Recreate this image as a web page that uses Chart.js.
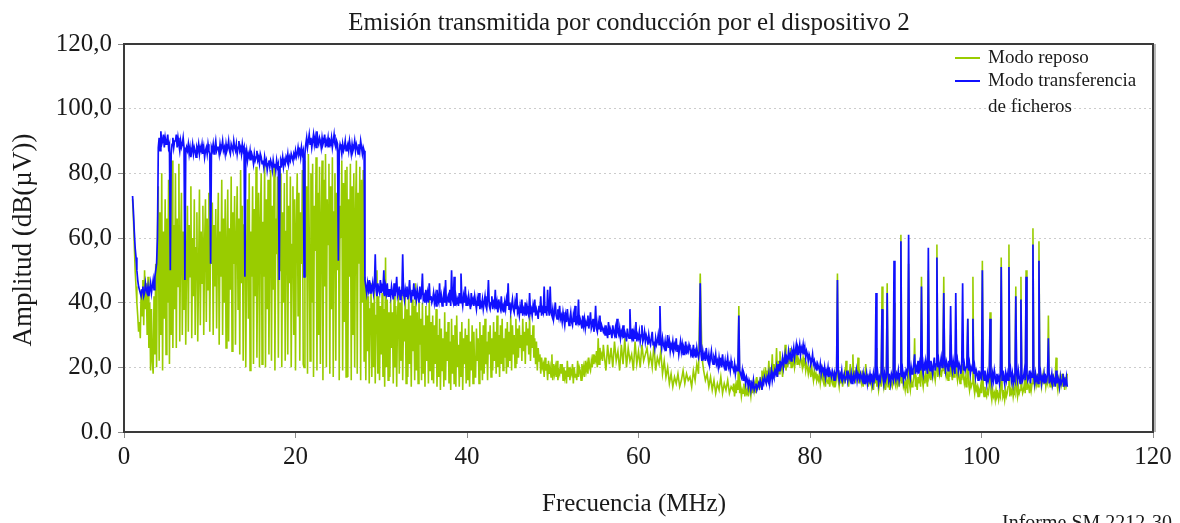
<!DOCTYPE html>
<html>
<head>
<meta charset="utf-8">
<title>Emisión transmitida por conducción por el dispositivo 2</title>
<script src="https://cdn.jsdelivr.net/npm/chart.js@4.4.1/dist/chart.umd.min.js"></script>
<style>
  html, body { margin: 0; padding: 0; background: #fff; }
  #wrap { width: 1180px; height: 523px; }
</style>
</head>
<body>
<div id="wrap"><canvas id="chart" width="1180" height="523"></canvas></div>
<script>
// texts
const TITLE = 'Emisión transmitida por conducción por el dispositivo 2';
const X_TITLE = 'Frecuencia (MHz)';
const Y_TITLE = 'Amplitud (dB(µV))';
const SERIES_NAMES = ['Modo reposo', 'Modo transferencia', 'de ficheros'];
const FOOTNOTE = 'Informe SM.2212-30';

// axes
const X_TICKS = [0, 20, 40, 60, 80, 100, 120];
const X_TICK_LABELS = ['0', '20', '40', '60', '80', '100', '120'];
const Y_TICKS = [0, 20, 40, 60, 80, 100, 120];
const Y_TICK_LABELS = ['0.0', '20,0', '40,0', '60,0', '80,0', '100,0', '120,0'];

// sweep: each row covers 5 MHz, row k starts at 1 + 5k MHz.
// rows with more than 25 readings are 0.1 MHz apart, the others 0.2 MHz
const ROW_START = 1;
const ROW_SPAN = 5;

// Modo reposo, dB(uV)
const IDLE = [
  [72,66,58,50,45,40,36,31,34,29, 44,36,47,33,50,38,46,30,48,26, 40,19,38,22,18,42,24,52,20,60, 76,22,68,30,80,19,62,35,72,24, 66,40,78,21,70,30,84,26,64,38],
  [80,26,66,45,83,28,58,74,30,62, 38,74,27,55,70,31,64,48,76,29, 60,42,72,30,57,68,28,50,75,33, 62,46,70,30,58,72,34,66,44,74, 31,60,52,71,30,64,45,69,32,58],
  [74,27,62,48,78,30,66,40,72,26, 58,75,28,63,44,79,25,68,52,73, 27,60,76,38,66,24,81,46,70,22, 64,77,20,55,72,35,80,19,62,48, 76,21,69,42,82,23,58,74,20,66],
  [80,21,65,48,83,20,72,38,78,24, 60,81,22,70,44,82,19,66,55,79, 23,74,50,80,20,68,40,77,22,62, 81,24,70,46,79,20,58,76,30,72, 19,64,80,36,74,22,68,52,81,21],
  [20,84,48,76,18,86,62,22,80,40, 83,17,70,56,85,19,74,30,82,21, 66,84,16,78,45,86,20,72,58,83, 18,76,38,85,17,68,80,22,74,50, 82,16,70,60,84,19,77,34,81,17],
  [82,17,72,48,83,16,76,30,80,20, 68,84,18,74,52,82,16,78,40,81, 22,48,16,44,25,42,15,38,46,17, 40,20,44,15,36,50,18,42,16,39, 24,43,17,38,14,54,20,41,16,37],
  [17,41,26,37,15,44,20,39,14,36, 43,18,40,22,45,16,35,28,42,15, 38,17,44,21,36,14,41,25,39,16, 46,19,37,15,42,27,35,16,40,18, 33,14,39,22,36,15,41,19,34,16],
  [36,15,33,21,38,14,30,17,35,13, 32,19,29,14,37,16,31,22,34,15, 28,13,35,18,30,15,33,14,36,20, 27,14,31,17,34,13,29,21,32,15, 30,16,35,14,28,19,33,15,31,17],
  [17,32,22,29,15,34,19,30,16,33, 18,35,21,28,16,31,24,33,17,29, 19,34,22,31,18,36,20,30,17,33, 21,35,19,29,23,32,18,34,20,31, 22,36,19,33,24,30,20,35,21,32],
  [23,33,26,30,22,35,25,31,21,34, 27,32,24,36,22,30,26,33,23,29, 21,28,19,26,22,24,18,23,20,21, 17,23,19,21,16,22,18,20,17,24, 16,21,18,20,17,22,16,19,18,21],
  [18,21,16,20,17,19,15,22,17,20, 16,19,18,21,15,20,17,18,16,22, 17,20,19,16,21,18,20,17,22,19, 21,18,23,20,19,22,20,24,21,23, 22,25,20,29,21,26,23,24,22,27],
  [24,19,27,21,26,20,28,22,25,19,27,21,29,20,26,22,24,19,28,21,25,20,27,22,24],
  [26,21,24,20,27,19,23,21,25,18,22,17,20,15,18,14,17,15,18,14,16,19,15,18,16],
  [17,14,19,16,21,18,49,23,19,16,18,14,17,13,16,12,15,13,17,12,15,13,16,12,14],
  [13,15,11,14,12,16,13,39,12,14, 11,13,12,15,11,14,12,13,11,15, 13,11,14,12,16,13,15,12,17,14, 15,13,17,14,19,15,18,16,20,15, 19,17,22,16,20,18,24,17,21,19],
  [19,26,17,22,18,25,19,21,17,23, 20,27,19,22,20,24,21,26,20,22, 21,23,20,22,24,21,23,22,21,23, 22,20,23,21,22,19,21,20,18,20, 19,17,20,18,16,19,17,18,16,17],
  [16,18,15,17,19,16,15,18,14,17, 16,15,18,14,17,16,15,17,14,16, 15,17,49,16,14,17,15,18,14,16, 18,15,22,16,19,14,17,21,15,18, 24,16,19,15,20,17,23,15,18,16],
  [15,19,14,17,16,21,15,18,14,16, 15,17,14,16,13,17,15,26,14,16, 13,15,17,14,45,16,14,17,13,15, 46,14,16,13,17,15,14,16,40,15, 14,17,15,18,14,16,61,15,17,14],
  [15,13,16,14,12,52,15,13,16,14, 15,17,29,14,16,13,17,15,18,14, 48,16,14,17,15,18,16,14,50,17, 18,16,19,17,20,18,16,19,58,17, 20,18,21,17,19,22,48,18,20,17],
  [18,16,19,17,30,18,16,20,17,19, 21,18,16,19,17,15,18,16,21,17, 15,17,14,16,35,15,13,16,14,15, 48,14,12,15,13,14,11,13,12,14, 12,53,13,11,14,12,11,13,12,14],
  [37,12,10,13,11,12,10,13,11,12, 10,12,11,54,13,11,12,10,13,11, 12,14,58,11,13,12,14,11,13,12, 45,13,11,14,12,13,48,14,12,13, 15,12,50,13,15,14,12,16,13,15],
  [63,16,14,17,15,18,14,59,15,17, 14,16,18,15,17,14,16,15,36,16, 14,17,15,18,14,16,17,23,15,13, 16,14,17,15,18,14,16,13,17,15, 18]
];

// Modo transferencia de ficheros
const TRANSFER = [
  [73,68,62,57,54,50,47,45,44,43, 42,44,45,42,43,46,44,43,45,42, 44,46,43,45,47,44,48,50,52,60, 88,91,87,93,89,90,92,88,91,89, 90,92,88,89,50,86,89,91,88,90],
  [90,92,88,91,89,87,90,88,89,91, 88,47,86,88,87,89,86,88,85,87, 89,86,88,87,85,88,87,89,86,88, 87,89,86,88,85,87,88,86,89,87, 86,52,88,87,89,86,88,90,87,88],
  [88,86,89,87,88,90,87,88,86,89, 87,88,90,87,86,89,88,87,90,88, 87,89,86,88,90,87,88,86,89,87, 88,48,85,87,84,86,85,87,84,86, 85,83,86,84,85,87,84,85,83,86],
  [85,83,84,82,85,83,84,81,83,84, 82,84,83,81,84,82,83,81,84,82, 83,47,82,84,83,85,82,84,83,85, 84,86,83,85,84,86,85,84,86,85, 87,85,86,88,86,87,85,88,86,87],
  [48,86,89,91,88,90,92,89,91,88, 90,92,89,91,88,93,90,89,91,90, 88,91,89,90,92,88,90,89,91,88, 90,89,91,88,90,92,89,88,90,89, 53,87,89,88,86,89,87,88,90,87],
  [88,89,87,90,88,86,89,87,88,90, 87,89,88,86,89,87,90,88,86,88, 87,47,45,43,46,44,47,43,45,44, 46,43,45,55,44,42,46,44,43,47, 43,45,44,50,42,45,43,46,42,44],
  [44,42,45,43,41,46,42,44,48,42, 43,45,41,44,42,55,43,41,44,42, 45,41,43,47,42,40,44,42,46,41, 43,41,44,42,40,45,41,43,49,41, 42,40,44,41,43,40,46,41,42,40],
  [41,43,40,42,39,44,41,40,46,40, 42,39,41,43,40,47,39,41,42,40, 44,39,50,41,40,48,39,42,40,41, 39,43,40,49,41,39,42,40,45,39, 41,39,42,40,38,43,40,41,39,42],
  [40,38,41,39,43,38,40,39,41,38, 40,42,39,38,41,47,39,38,40,42, 38,40,39,44,38,40,37,41,39,38, 42,38,39,37,40,38,41,39,46,38, 40,37,39,41,38,37,40,38,43,37],
  [38,36,39,37,41,36,38,37,40,36, 39,37,36,43,37,38,36,39,37,41, 36,38,37,35,39,37,42,36,38,37, 45,37,39,36,44,38,36,45,37,36, 38,35,37,40,36,35,38,36,39,35],
  [36,34,37,35,33,36,34,38,35,33, 35,37,34,33,36,34,39,33,35,34, 41,33,35,34,32,36,33,35,32,34, 33,36,32,34,37,32,33,35,31,33, 39,32,31,34,32,36,31,33,32,31],
  [32,30,33,31,29,34,30,32,31,29, 33,31,30,32,29,35,31,30,32,29, 31,30,33,29,31,30,28,32,30,29, 38,30,29,32,28,31,29,34,28,30, 29,31,28,30,33,28,29,31,28,30],
  [29,27,30,28,27,29,31,27,28,26, 29,27,28,30,27,39,28,26,29,27, 26,28,25,27,30,26,28,25,27,26, 28,25,27,26,29,25,27,24,26,28, 25,27,24,26,25,28,24,26,25,27],
  [26,24,25,23,27,24,25,23,26,24, 23,25,46,24,22,25,23,24,22,26, 23,22,24,21,23,25,22,21,23,22, 24,21,22,20,23,21,22,20,24,21, 20,22,19,21,23,20,21,19,22,20],
  [20,19,21,18,20,19,22,36,19,18, 17,19,16,18,17,15,17,16,14,16, 15,13,15,14,16,13,14,15,13,14, 15,14,16,15,13,16,15,17,16,15, 17,16,18,15,17,19,16,18,17,19],
  [18,20,17,21,19,22,20,21,23,20, 22,24,21,23,22,25,23,24,22,25, 24,26,23,25,27,24,26,25,27,24, 26,25,27,24,26,23,25,24,22,24, 23,21,22,24,21,22,20,21,19,21],
  [20,19,21,18,20,19,18,20,17,19, 18,20,17,19,18,17,19,18,16,18, 17,19,47,18,16,18,17,19,16,17, 18,16,17,19,16,18,17,16,18,15, 17,18,16,17,19,16,18,17,16,18],
  [17,16,18,15,17,16,18,15,17,16, 18,16,17,15,18,16,17,43,16,18, 15,17,16,18,38,17,15,18,16,17, 43,18,16,17,15,18,17,16,53,17, 16,18,17,19,16,18,59,17,19,16],
  [18,17,19,18,20,61,19,17,20,18, 19,21,24,18,20,19,22,18,21,19, 45,20,18,21,19,22,20,18,57,20, 19,22,20,18,21,23,19,21,54,20, 22,19,21,23,20,22,43,21,19,22],
  [21,19,22,20,39,21,19,22,20,18, 43,20,22,19,21,20,18,22,46,19, 21,19,20,22,35,19,21,18,20,19, 35,18,20,17,19,18,16,19,17,18, 16,50,18,16,19,17,15,18,16,17],
  [35,17,15,18,16,19,17,15,18,16, 17,15,18,51,16,19,17,15,18,16, 18,16,51,17,19,16,18,15,17,16, 42,18,16,19,17,15,41,18,16,17, 19,16,48,18,16,17,19,15,18,17],
  [58,17,15,18,16,17,15,53,16,18, 15,17,16,18,15,17,16,18,29,15, 17,16,18,15,17,16,14,19,15,17, 16,14,17,15,16,18,14,16,15,17, 14]
];

const GREEN = '#99cc00';
const BLUE = '#1010ff';
const SERIF = '"Liberation Serif", "Times New Roman", serif';

function toPoints(rows) {
  const pts = [];
  rows.forEach((row, k) => {
    const step = row.length > 25 ? 0.1 : 0.2;
    row.forEach((v, j) => {
      pts.push({ x: +(ROW_START + ROW_SPAN * k + step * j).toFixed(2), y: v });
    });
  });
  return pts;
}

// titles, legend, frame and footnote are drawn by hand
const decorations = {
  id: 'decorations',
  afterDraw(chart) {
    const ctx = chart.ctx;
    const a = chart.chartArea;
    ctx.save();

    ctx.strokeStyle = '#b8b8b8';
    ctx.lineWidth = 2;
    ctx.beginPath();
    ctx.moveTo(a.right + 2, a.top);
    ctx.lineTo(a.right + 2, a.bottom);
    ctx.stroke();
    ctx.strokeStyle = '#3a3a3a';
    ctx.lineWidth = 2;
    ctx.strokeRect(a.left, a.top, a.right - a.left, a.bottom - a.top);

    ctx.fillStyle = '#1a1a1a';
    ctx.font = '25px ' + SERIF;
    ctx.textAlign = 'center';
    ctx.textBaseline = 'alphabetic';
    ctx.fillText(TITLE, 629, 30);
    ctx.fillText(X_TITLE, 634, 511);

    ctx.save();
    ctx.translate(31, 240);
    ctx.rotate(-Math.PI / 2);
    ctx.font = '27px ' + SERIF;
    ctx.fillText(Y_TITLE, 0, 0);
    ctx.restore();

    // legend
    ctx.lineWidth = 2;
    ctx.strokeStyle = GREEN;
    ctx.beginPath(); ctx.moveTo(955, 58); ctx.lineTo(980, 58); ctx.stroke();
    ctx.strokeStyle = BLUE;
    ctx.beginPath(); ctx.moveTo(955, 81); ctx.lineTo(980, 81); ctx.stroke();
    ctx.font = '19px ' + SERIF;
    ctx.textAlign = 'left';
    ctx.textBaseline = 'middle';
    ctx.fillText(SERIES_NAMES[0], 988, 58);
    ctx.fillText(SERIES_NAMES[1], 988, 81);
    ctx.fillText(SERIES_NAMES[2], 988, 107);

    ctx.font = '20px ' + SERIF;
    ctx.textAlign = 'right';
    ctx.textBaseline = 'top';
    ctx.fillText(FOOTNOTE, 1172, 514);
    ctx.restore();
  }
};

new Chart(document.getElementById('chart'), {
  type: 'line',
  data: {
    datasets: [
      {
        label: SERIES_NAMES[0],
        data: toPoints(IDLE),
        borderColor: GREEN,
        borderWidth: 1.6,
        pointRadius: 0,
        order: 2
      },
      {
        label: SERIES_NAMES[1] + ' ' + SERIES_NAMES[2],
        data: toPoints(TRANSFER),
        borderColor: BLUE,
        borderWidth: 1.7,
        pointRadius: 0,
        order: 1
      }
    ]
  },
  options: {
    responsive: false,
    animation: false,
    layout: { padding: { left: 0, right: 27, top: 44, bottom: 0 } },
    plugins: {
      legend: { display: false },
      title: { display: false },
      tooltip: { enabled: false }
    },
    scales: {
      x: {
        type: 'linear',
        min: 0,
        max: 120,
        afterBuildTicks: s => { s.ticks = X_TICKS.map(v => ({ value: v })); },
        afterFit: s => { s.height = 91; },
        grid: { drawOnChartArea: false, tickLength: 6, tickColor: '#8c8c8c' },
        border: { display: false },
        ticks: {
          padding: 4,
          maxRotation: 0,
          color: '#1a1a1a',
          font: { family: SERIF, size: 25 },
          callback: (v, i) => X_TICK_LABELS[i]
        }
      },
      y: {
        min: 0,
        max: 120,
        afterBuildTicks: s => { s.ticks = Y_TICKS.map(v => ({ value: v })); },
        afterFit: s => { s.width = 124; },
        grid: {
          color: c => (c.tick && (c.tick.value === 0 || c.tick.value === 120)) ? 'rgba(0,0,0,0)' : '#cccccc',
          tickLength: 6,
          tickColor: '#8c8c8c'
        },
        border: { display: false, dash: [2, 3] },
        ticks: {
          padding: 6,
          color: '#1a1a1a',
          font: { family: SERIF, size: 25 },
          callback: (v, i) => Y_TICK_LABELS[i]
        }
      }
    }
  },
  plugins: [decorations]
});
</script>
</body>
</html>
